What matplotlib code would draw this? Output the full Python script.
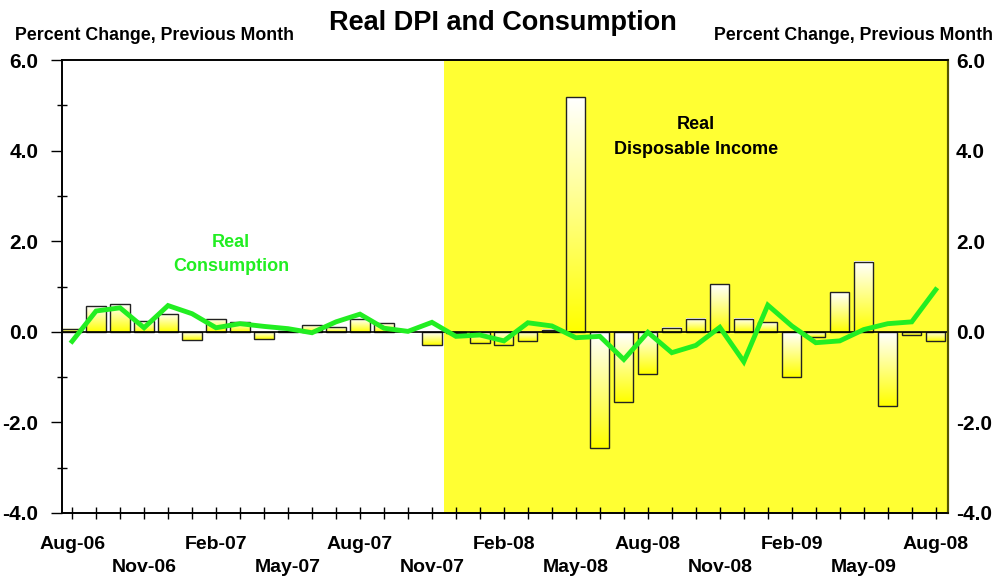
import numpy as np
import matplotlib
matplotlib.use("Agg")
import matplotlib.pyplot as plt

plt.rcParams['font.family'] = ['Liberation Sans', 'DejaVu Sans']
plt.rcParams['font.weight'] = 'bold'

# monthly data Aug-06 .. Aug-09
months = ["Aug-06", "Sep-06", "Oct-06", "Nov-06", "Dec-06", "Jan-07", "Feb-07", "Mar-07",
          "Apr-07", "May-07", "Jun-07", "Jul-07", "Aug-07", "Sep-07", "Oct-07", "Nov-07",
          "Dec-07", "Jan-08", "Feb-08", "Mar-08", "Apr-08", "May-08", "Jun-08", "Jul-08",
          "Aug-08", "Sep-08", "Oct-08", "Nov-08", "Dec-08", "Jan-09", "Feb-09", "Mar-09",
          "Apr-09", "May-09", "Jun-09", "Jul-09", "Aug-09"]
dpi = [0.07, 0.57, 0.61, 0.23, 0.40, -0.17, 0.29, 0.21, -0.15, 0.01, 0.14, 0.10, 0.28,
       0.19, 0.00, -0.28, -0.02, -0.25, -0.30, -0.21, 0.05, 5.18, -2.56, -1.54, -0.94,
       0.09, 0.29, 1.05, 0.29, 0.21, -0.99, -0.11, 0.87, 1.55, -1.63, -0.07, -0.21]
consumption = [-0.21, 0.46, 0.53, 0.09, 0.58, 0.40, 0.09, 0.18, 0.12, 0.07, -0.02, 0.22,
               0.39, 0.08, 0.01, 0.21, -0.10, -0.07, -0.20, 0.20, 0.13, -0.13, -0.10, -0.61,
               -0.01, -0.46, -0.30, 0.10, -0.66, 0.59, 0.13, -0.24, -0.20, 0.05, 0.18, 0.22, 0.93]
# labels shown every 3 months (last one as printed on the original)
tick_labels = ["Aug-06", "Nov-06", "Feb-07", "May-07", "Aug-07", "Nov-07", "Feb-08",
               "May-08", "Aug-08", "Nov-08", "Feb-09", "May-09", "Aug-08"]
shade_start = "Dec-07"

x = np.arange(len(months))
fig = plt.figure(figsize=(10.05, 5.78), dpi=100)
ax = fig.add_axes([0.0617, 0.1125, 0.8813, 0.7835])

xlim = (-0.42, 36.5)
ylim = (-4.0, 6.0)

# shaded area
s = months.index(shade_start) - 0.5
ax.axvspan(s, xlim[1], color='#FFFF33', zorder=0, lw=0)

# gradient bars: white at top, yellow at bottom
grad = np.linspace(0, 1, 100).reshape(-1, 1)
cmap = matplotlib.colors.LinearSegmentedColormap.from_list('wy', ['white', '#FFFF00'])
w = 0.8
for xi, v in zip(x, dpi):
    y0, y1 = min(0, v), max(0, v)
    if y1 - y0 < 0.005:
        continue
    ax.imshow(grad, extent=(xi - w / 2, xi + w / 2, y0, y1), origin='upper',
              aspect='auto', cmap=cmap, zorder=2)
    ax.add_patch(plt.Rectangle((xi - w / 2, y0), w, y1 - y0, fill=False,
                               ec='#222222', lw=1.0, zorder=3))

ax.axhline(0, color='black', lw=1.2, zorder=3)
ax.plot(x, consumption, color='#22EE22', lw=3.5, zorder=4, solid_joinstyle='miter')

ax.set_xlim(*xlim)
ax.set_ylim(*ylim)

# x ticks: every month, labels every 3 months on two staggered rows
ax.set_xticks(x)
labs = [''] * len(x)
for k, i in enumerate(range(0, len(x), 3)):
    labs[i] = tick_labels[k] if k % 2 == 0 else '\n' + tick_labels[k]
ax.set_xticklabels(labs, fontsize=14, fontweight='bold', linespacing=1.5)
ax.tick_params(axis='x', direction='inout', length=9, width=1, pad=12)

# y ticks
yt = np.arange(-4, 6.1, 2)
ax.set_yticks(yt)
ax.set_yticks(np.arange(-3, 6, 2), minor=True)
ax.set_yticklabels([f"{v:.1f}" for v in yt], fontsize=15, fontweight='bold')
ax.tick_params(axis='y', which='major', direction='out', length=8, width=1, pad=9)
ax.tick_params(axis='y', which='minor', direction='inout', length=7, width=1)

ax2 = ax.twinx()
ax2.set_ylim(*ylim)
ax2.set_yticks(yt)
ax2.set_yticklabels([f"{v:.1f}" for v in yt], fontsize=15, fontweight='bold')
ax2.tick_params(axis='y', length=0, pad=6)

for a in (ax, ax2):
    a.spines['top'].set_linewidth(1.2)
    a.spines['left'].set_linewidth(1.2)
    a.spines['bottom'].set_linewidth(1.2)
    a.spines['right'].set_color('#555500')
    a.spines['right'].set_linewidth(1.5)

fig.text(0.5, 0.96, "Real DPI and Consumption", ha='center', va='center',
         fontsize=19.5, fontweight='bold')
fig.text(0.015, 0.939, "Percent Change, Previous Month", ha='left', va='center',
         fontsize=12.8, fontweight='bold')
fig.text(0.988, 0.939, "Percent Change, Previous Month", ha='right', va='center',
         fontsize=12.8, fontweight='bold')

ax.text(0.6925, 0.763, "Real\nDisposable Income", transform=fig.transFigure, ha='center',
        va='center', fontsize=13, fontweight='bold', linespacing=1.55)
ax.text(0.23, 0.56, "Real\nConsumption", transform=fig.transFigure, ha='center',
        va='center', fontsize=13, fontweight='bold', color='#22EE22', linespacing=1.55)

fig.savefig('out.png', dpi=100)
